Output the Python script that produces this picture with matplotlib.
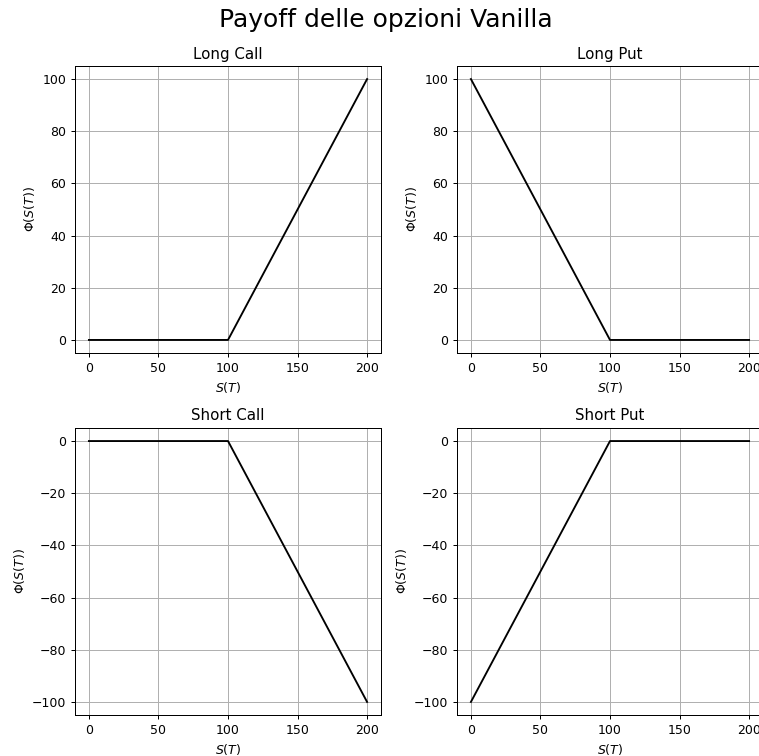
import numpy as np
import matplotlib.pyplot as plt

# prezzi del sottostante a scadenza e payoff
S = [0, 100, 200]
long_call = [0, 0, 100]
long_put = [100, 0, 0]
short_call = [0, 0, -100]
short_put = [-100, 0, 0]

titles = ['Long Call', 'Long Put', 'Short Call', 'Short Put']
payoffs = [long_call, long_put, short_call, short_put]

W, H = 759, 756
fig = plt.figure(figsize=(W / 90, H / 90), dpi=90)
boxes = [(75, 66, 306, 287), (457, 66, 306, 287),
         (75, 428, 306, 287), (457, 428, 306, 287)]

for (x, y, w, h), title, payoff in zip(boxes, titles, payoffs):
    ax = fig.add_axes([x / W, 1 - (y + h) / H, w / W, h / H])
    ax.plot(S, payoff, color='black')
    ax.set_title(title)
    ax.set_xlabel('$S(T)$')
    ax.set_ylabel(r'$\Phi(S(T))$')
    ax.set_xticks([0, 50, 100, 150, 200])
    ax.grid()

fig.text(386 / W, 1 - 20 / H, 'Payoff delle opzioni Vanilla', fontsize=20,
         ha='center', va='center')

fig.savefig('out.png', dpi=90)
